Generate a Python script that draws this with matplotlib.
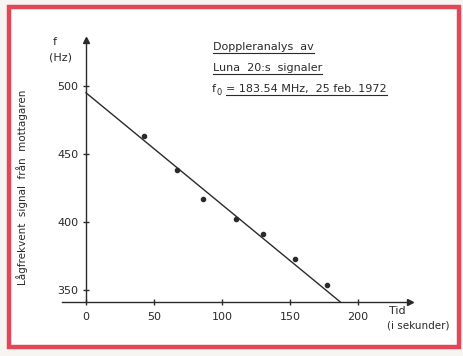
import matplotlib
matplotlib.use("Agg")
import matplotlib.pyplot as plt
from matplotlib.patches import Rectangle
from matplotlib.lines import Line2D

# ---- data ----
time_s = [43, 67, 86, 110, 130, 154, 177]
freq_hz = [463, 438, 417, 402, 391, 373, 354]
fit_t = [0, 187]
fit_f = [495, 341.2]
xticks = [0, 50, 100, 150, 200]
yticks = [350, 400, 450, 500]
title_lines = ["Doppleranalys  av", "Luna  20:s  signaler"]
title_f0 = "= 183.54 MHz,  25 feb. 1972"
ylabel = "Lågfrekvent  signal  från  mottagaren"

W, H = 464, 356
fig = plt.figure(figsize=(W / 100, H / 100), dpi=100)
fig.patch.set_facecolor("#f7f5f1")
ink = "#2a2a2a"
plt.rcParams["font.family"] = ["DejaVu Sans"]

# red frame
fig.patches.append(Rectangle((9 / W, 9 / H), 450 / W, 340 / H, transform=fig.transFigure,
                             facecolor="white", edgecolor="#e34656", linewidth=3.2, zorder=-5))

# axes spanning px x 62..410, y 40..302 (from top)
x0, x1, ytop, ybot = 62, 410, 40, 302
ax = fig.add_axes([x0 / W, 1 - ybot / H, (x1 - x0) / W, (ybot - ytop) / H])
ax.set_zorder(2)
ax.set_facecolor("none")
pps = 1.36
xmin = (x0 - 86) / pps
xmax = (x1 - 86) / pps
ymin = 500 - (ybot - 86) / pps
ymax = 500 + (86 - ytop) / pps
ax.set_xlim(xmin, xmax)
ax.set_ylim(ymin, ymax)

for s in ["top", "right"]:
    ax.spines[s].set_visible(False)
ax.spines["left"].set_position(("data", 0))
ax.spines["bottom"].set_position(("data", ymin))
for s in ["left", "bottom"]:
    ax.spines[s].set_color(ink)
    ax.spines[s].set_linewidth(1.0)

ax.set_xticks(xticks)
ax.set_yticks(yticks)
ax.tick_params(axis="both", colors=ink, labelcolor=ink, labelsize=8, direction="inout",
               length=5, width=1.0)
ax.tick_params(axis="x", pad=5)
ax.tick_params(axis="y", pad=3)

# arrow heads
ax.plot([xmax], [ymin], marker=">", color=ink, markersize=5, clip_on=False)
ax.plot([0], [ymax], marker="^", color=ink, markersize=5, clip_on=False)

# fit line and points
ax.plot(fit_t, fit_f, color=ink, linewidth=1.0)
ax.plot(time_s, freq_hz, "o", color=ink, markersize=3)

# labels
fig.text(53 / W, 1 - 42 / H, "f", fontsize=8, color=ink, ha="left", va="center")
fig.text(49 / W, 1 - 57 / H, "(Hz)", fontsize=8, color=ink, ha="left", va="center")
fig.text(22 / W, 1 - 187 / H, ylabel, fontsize=7.5, color=ink, rotation=90,
         ha="center", va="center")
fig.text(389 / W, 1 - 311 / H, "Tid", fontsize=8, color=ink, ha="left", va="center")
fig.text(387 / W, 1 - 326 / H, "(i sekunder)", fontsize=7.5, color=ink, ha="left", va="center")

# title block with underlines
fig.canvas.draw()
renderer = fig.canvas.get_renderer()
texts = []
for i, line in enumerate(title_lines):
    t = fig.text(213 / W, 1 - (50 + 21 * i) / H, line, fontsize=8, color=ink,
                 ha="left", va="baseline")
    texts.append(t)
tf = fig.text(212 / W, 1 - 92 / H, "f", fontsize=8, color=ink, ha="left", va="baseline")
t0 = fig.text(217 / W, 1 - 95 / H, "0", fontsize=6, color=ink, ha="left", va="baseline")
t3 = fig.text(226 / W, 1 - 92 / H, title_f0, fontsize=8, color=ink, ha="left", va="baseline")
texts.append(t3)
fig.canvas.draw()
for t in texts:
    bb = t.get_window_extent(renderer)
    y = t.get_position()[1] - 3 / H
    fig.lines.append(Line2D([bb.x0 / W, bb.x1 / W], [y, y], transform=fig.transFigure,
                            color=ink, linewidth=0.8))

fig.savefig("out.png", dpi=100, facecolor=fig.get_facecolor())
